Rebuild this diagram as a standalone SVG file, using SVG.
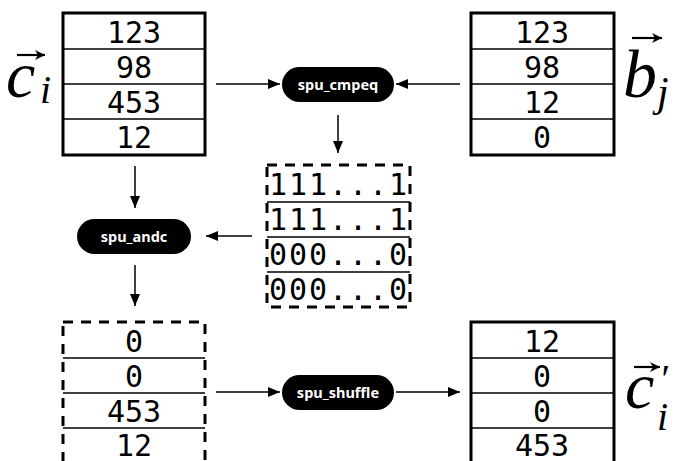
<svg xmlns="http://www.w3.org/2000/svg" width="677" height="461" viewBox="0 0 677 461">
<style>
.box{fill:#fff;stroke:#000;stroke-width:3}
.dbox{fill:#fff;stroke:#000;stroke-width:3;stroke-dasharray:10 8}
.div{stroke:#000;stroke-width:1.5}
.num{font-family:"DejaVu Sans Mono",monospace;font-size:30px;text-anchor:middle;fill:#000}
.pill{fill:#000}
.pt{font-family:"Noto Sans","DejaVu Sans",sans-serif;font-weight:bold;font-size:14.5px;fill:#fff;text-anchor:middle}
.math{font-family:"Liberation Serif","DejaVu Serif",serif;font-style:italic;fill:#000}
.vec{stroke:#000;stroke-width:2.2}
.con{stroke:#000;stroke-width:1.5;fill:none}
</style>
<defs>
<marker id="ah" viewBox="0 0 12 10" refX="12" refY="5" markerWidth="12" markerHeight="10" markerUnits="userSpaceOnUse" orient="auto">
<path d="M0,0 L12,5 L0,10 Z" fill="#000"/>
</marker>
<marker id="vh" viewBox="0 0 10 10" refX="10" refY="5" markerWidth="10" markerHeight="10" markerUnits="userSpaceOnUse" orient="auto">
<path d="M0,0 L10,5 L0,10 L3,5 Z" fill="#000"/>
</marker>
</defs>

<g id="ci">
<rect class="box" x="63" y="13" width="142" height="142"/>
<line class="div" x1="63" y1="49" x2="205" y2="49"/>
<line class="div" x1="63" y1="84" x2="205" y2="84"/>
<line class="div" x1="63" y1="119" x2="205" y2="119"/>
<text class="num" x="134" y="43">123</text>
<text class="num" x="134" y="78">98</text>
<text class="num" x="134" y="113">453</text>
<text class="num" x="134" y="148">12</text>
</g>
<g id="ci-label">
<text class="math" x="6" y="97" font-size="66">c</text>
<text class="math" x="40" y="103" font-size="40">i</text>
<line class="vec" x1="17" y1="55" x2="45" y2="55" marker-end="url(#vh)"/>
</g>

<g id="bj">
<rect class="box" x="471" y="13" width="143" height="142"/>
<line class="div" x1="471" y1="49" x2="614" y2="49"/>
<line class="div" x1="471" y1="84" x2="614" y2="84"/>
<line class="div" x1="471" y1="119" x2="614" y2="119"/>
<text class="num" x="542" y="43">123</text>
<text class="num" x="542" y="78">98</text>
<text class="num" x="542" y="113">12</text>
<text class="num" x="542" y="148">0</text>
</g>
<g id="bj-label">
<text class="math" x="623" y="97" font-size="68">b</text>
<text class="math" x="657" y="106" font-size="42">j</text>
<line class="vec" x1="632" y1="38" x2="662" y2="38" marker-end="url(#vh)"/>
</g>

<g id="cmpeq">
<rect class="pill" x="282" y="67" width="112" height="35" rx="17.5"/>
<text class="pt" x="338" y="89.5">spu_cmpeq</text>
</g>

<g id="mask">
<rect class="dbox" x="267" y="165" width="143" height="142"/>
<line class="div" x1="267" y1="202" x2="410" y2="202"/>
<line class="div" x1="267" y1="237" x2="410" y2="237"/>
<line class="div" x1="267" y1="272" x2="410" y2="272"/>
<text class="num" x="338" y="195" textLength="138" lengthAdjust="spacing">111...1</text>
<text class="num" x="338" y="230" textLength="138" lengthAdjust="spacing">111...1</text>
<text class="num" x="338" y="265" textLength="138" lengthAdjust="spacing">000...0</text>
<text class="num" x="338" y="300" textLength="138" lengthAdjust="spacing">000...0</text>
</g>

<g id="andc">
<rect class="pill" x="77" y="219" width="114" height="35" rx="17.5"/>
<text class="pt" x="134" y="241.5">spu_andc</text>
</g>

<g id="masked">
<rect class="dbox" x="63" y="322" width="142" height="144"/>
<line class="div" x1="63" y1="358" x2="205" y2="358"/>
<line class="div" x1="63" y1="393" x2="205" y2="393"/>
<line class="div" x1="63" y1="428" x2="205" y2="428"/>
<text class="num" x="134" y="352">0</text>
<text class="num" x="134" y="387">0</text>
<text class="num" x="134" y="422">453</text>
<text class="num" x="134" y="456">12</text>
</g>

<g id="shuffle">
<rect class="pill" x="282" y="375" width="112" height="35" rx="17.5"/>
<text class="pt" x="338" y="397.5">spu_shuffle</text>
</g>

<g id="ci2">
<rect class="box" x="471" y="322" width="143" height="144"/>
<line class="div" x1="471" y1="358" x2="614" y2="358"/>
<line class="div" x1="471" y1="393" x2="614" y2="393"/>
<line class="div" x1="471" y1="428" x2="614" y2="428"/>
<text class="num" x="542" y="352">12</text>
<text class="num" x="542" y="387">0</text>
<text class="num" x="542" y="422">0</text>
<text class="num" x="542" y="456">453</text>
</g>
<g id="ci2-label">
<text class="math" x="625" y="408" font-size="66">c</text>
<text class="math" x="657" y="430" font-size="40">i</text>
<text class="math" x="659" y="392" font-size="40">′</text>
<line class="vec" x1="634" y1="367" x2="660" y2="367" marker-end="url(#vh)"/>
</g>

<g id="connectors">
<line class="con" x1="216" y1="84" x2="280" y2="84" marker-end="url(#ah)"/>
<line class="con" x1="460" y1="84" x2="396" y2="84" marker-end="url(#ah)"/>
<line class="con" x1="338" y1="115" x2="338" y2="153" marker-end="url(#ah)"/>
<line class="con" x1="135" y1="166" x2="135" y2="208" marker-end="url(#ah)"/>
<line class="con" x1="252" y1="236" x2="206" y2="236" marker-end="url(#ah)"/>
<line class="con" x1="135" y1="265" x2="135" y2="306" marker-end="url(#ah)"/>
<line class="con" x1="216" y1="392" x2="280" y2="392" marker-end="url(#ah)"/>
<line class="con" x1="396" y1="392" x2="460" y2="392" marker-end="url(#ah)"/>
</g>
</svg>
